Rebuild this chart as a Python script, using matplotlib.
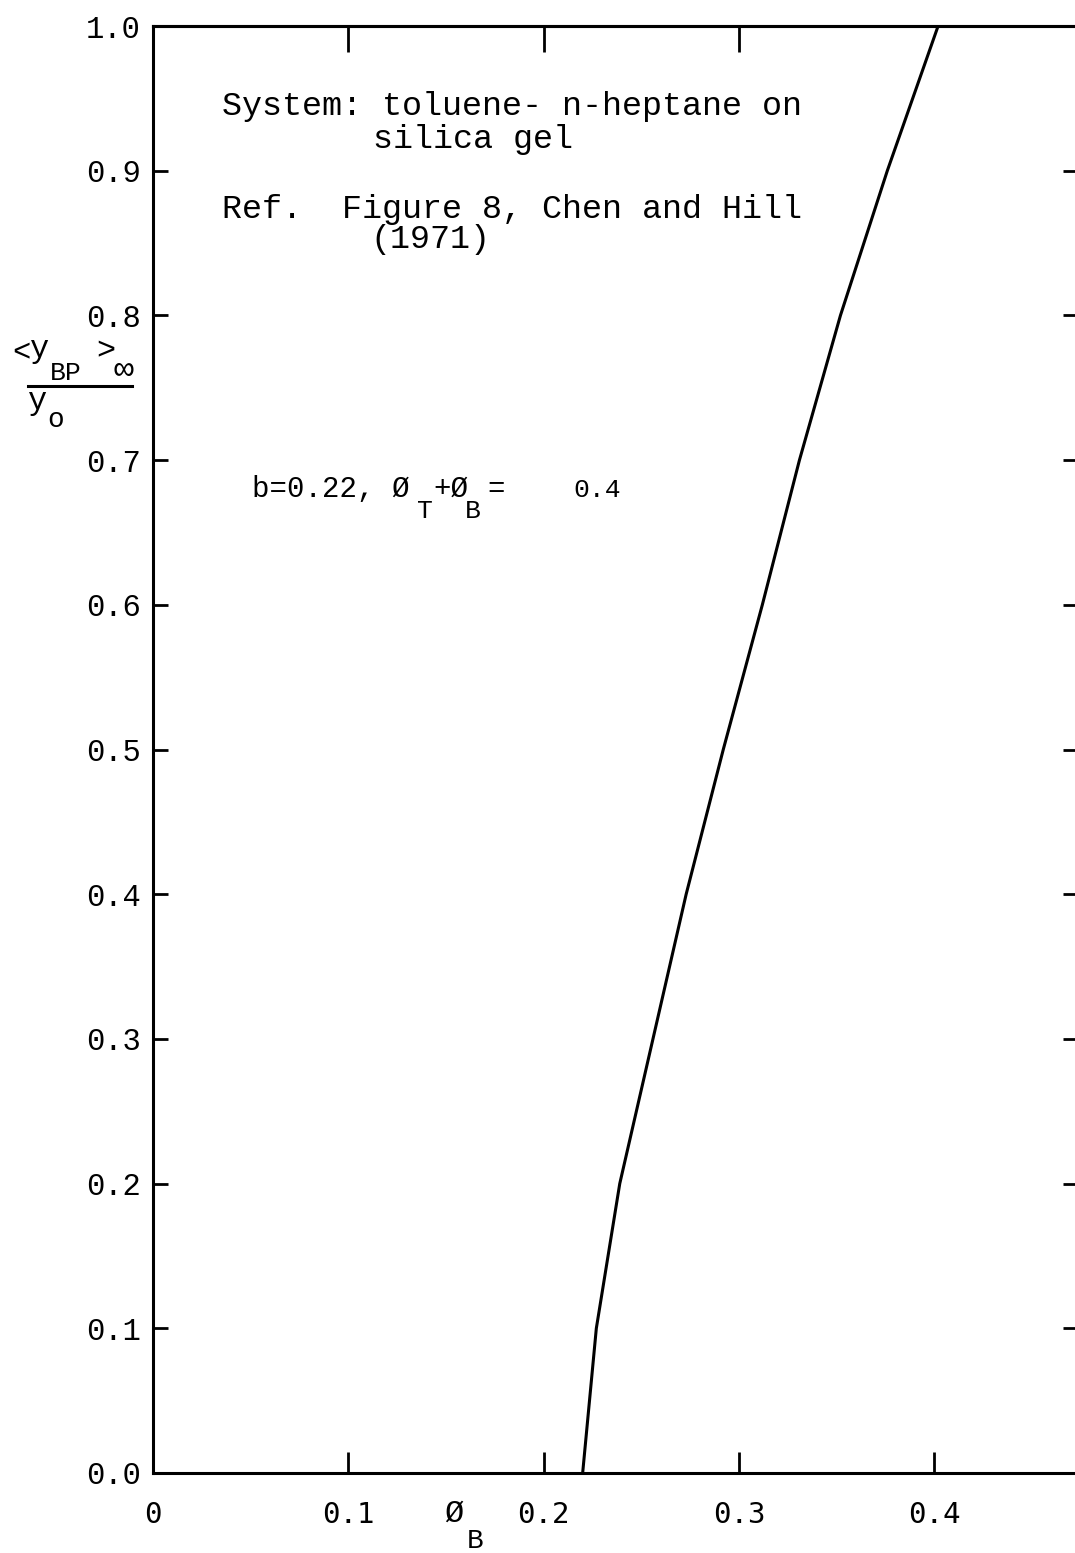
import matplotlib
matplotlib.use("Agg")
import matplotlib.pyplot as plt
from matplotlib.lines import Line2D

# ---------------- data ----------------
y_ratio = [0.0, 0.1, 0.2, 0.3, 0.4, 0.5, 0.6, 0.7, 0.8, 0.9, 1.0]
phi_B = [0.220, 0.227, 0.239, 0.256, 0.273, 0.292, 0.312, 0.331, 0.352, 0.376, 0.402]

x_ticks = [0.0, 0.1, 0.2, 0.3, 0.4]
x_tick_labels = ["0", "0.1", "0.2", "0.3", "0.4"]
y_ticks = [0.0, 0.1, 0.2, 0.3, 0.4, 0.5, 0.6, 0.7, 0.8, 0.9, 1.0]
y_tick_labels = ["0.0", "0.1", "0.2", "0.3", "0.4", "0.5", "0.6", "0.7", "0.8", "0.9", "1.0"]
top_ticks = [0.1, 0.2, 0.3]
right_ticks = [0.1, 0.2, 0.3, 0.4, 0.5, 0.6, 0.7, 0.8, 0.9]

# ---------------- figure ----------------
W, H = 1075, 1553
DPI = 100
fig = plt.figure(figsize=(W / DPI, H / DPI), dpi=DPI)
fig.patch.set_facecolor("white")

MONO = ["Liberation Mono", "DejaVu Sans Mono", "DejaVu Sans"]
SANSMONO = ["DejaVu Sans Mono", "DejaVu Sans"]

def fx(px):
    return px / W

def fy(py):
    return 1 - py / H

# axes: x=0 at px 153, 0.1 per 195.3 px ; y=0 at py 1473, y=1 at py 26
xmax = 0.475
left_px, bottom_px, top_px = 153, 1473, 26
right_px = left_px + xmax * 1953
ax = fig.add_axes([fx(left_px), fy(bottom_px), (right_px - left_px) / W,
                   (bottom_px - top_px) / H])
ax.set_xlim(0, xmax)
ax.set_ylim(0, 1.0)

lw = 2.2
for s in ax.spines.values():
    s.set_linewidth(lw)
    s.set_color("black")

ax.plot(phi_B, y_ratio, color="black", lw=lw, solid_capstyle="butt",
        solid_joinstyle="round")

ax.set_xticks(x_ticks)
ax.set_xticklabels(x_tick_labels, family=SANSMONO, fontsize=21)
ax.set_yticks(y_ticks)
ax.set_yticklabels(y_tick_labels, family=MONO, fontsize=22)
ax.tick_params(axis="x", direction="in", length=15, width=2.0, pad=20)
ax.tick_params(axis="y", direction="in", length=11, width=2.0, pad=9)
# hide the ticks at the axis corners (labels remain)
for tk in ax.xaxis.get_major_ticks():
    if tk.get_loc() == 0.0:
        tk.tick1line.set_visible(False)
for tk in ax.yaxis.get_major_ticks():
    if tk.get_loc() in (0.0, 1.0):
        tk.tick1line.set_visible(False)

sec_top = ax.secondary_xaxis("top")
sec_top.set_xticks(top_ticks)
sec_top.set_xticklabels([])
sec_top.tick_params(direction="in", length=19, width=2.0)
sec_top.spines["top"].set_linewidth(lw)

sec_right = ax.secondary_yaxis("right")
sec_right.set_yticks(right_ticks)
sec_right.set_yticklabels([])
sec_right.tick_params(direction="in", length=13, width=2.0)
sec_right.spines["right"].set_linewidth(lw)

# ---------------- text ----------------
def t(px, py, s, size, family=MONO, **kw):
    return fig.text(fx(px), fy(py), s, fontsize=size, family=family,
                    ha="left", va="baseline", **kw)

t(222, 115, "System: toluene- n-heptane on", 24)
t(373, 148, "silica gel", 24)
t(222, 218, "Ref.  Figure 8, Chen and Hill", 24)
t(370, 248, "(1971)", 24)

# annotation b=0.22, ØT+ØB= 0.4
t(252, 497, "b=0.22, Ø", 21)
t(417, 518, "T", 19)
t(433, 497, "+Ø", 21)
t(465, 518, "B", 19)
t(487, 497, "=", 21)
t(573, 497, "0.4", 19)

# x-axis label Ø_B
t(444, 1522, "Ø", 23)
t(467, 1548, "B", 20)

# y-axis label  <y_BP>_inf / y_o
t(12, 361, "<", 22)
t(30, 357, "y", 23)
t(50, 380, "BP", 19)
t(96, 359, ">", 23)
t(114, 379, "∞", 24)
fig.add_artist(Line2D([fx(28), fx(132)], [fy(386), fy(386)],
                      transform=fig.transFigure, color="black", lw=2.2))
t(28, 409, "y", 23)
t(47, 427, "o", 20)

fig.savefig("out.png", dpi=DPI, facecolor="white")
